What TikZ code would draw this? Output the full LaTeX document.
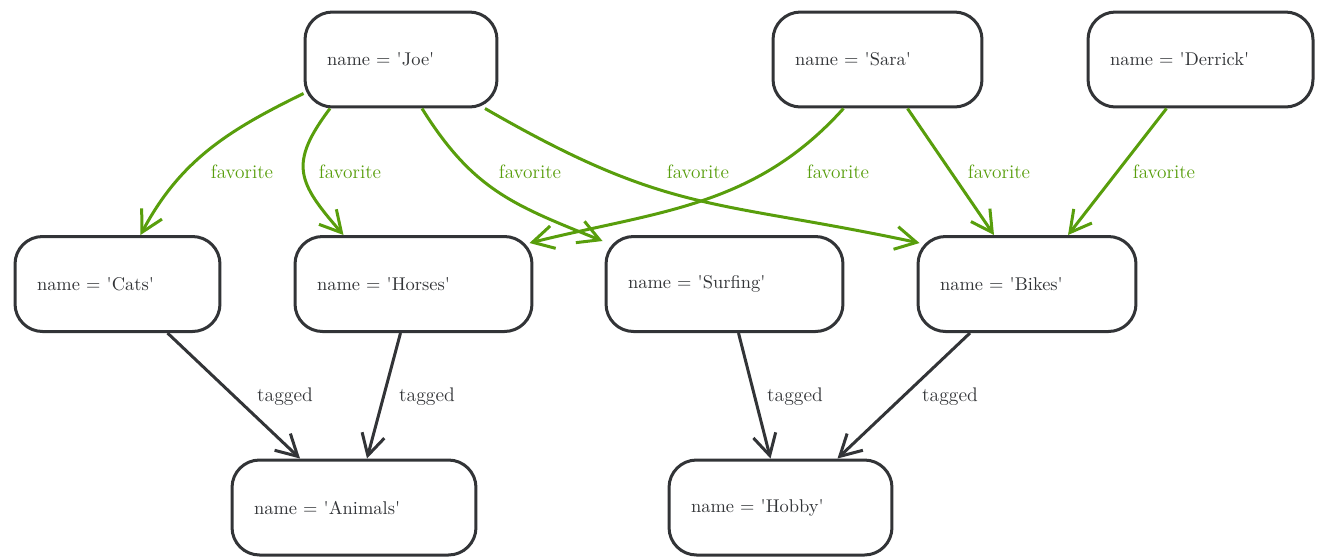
\documentclass[tikz,border=0pt]{standalone}
\usepackage{amsmath}
\usetikzlibrary{arrows.meta}
\definecolor{favgreen}{RGB}{88,158,12}
\definecolor{edgegray}{RGB}{50,52,55}
\begin{document}
\begin{tikzpicture}[x=0.02cm,y=-0.02cm,every node/.style={text=edgegray},
    entity/.style={draw=edgegray,line width=0.06cm,rounded corners=0.55cm,minimum height=1.9cm,inner xsep=0.44cm,inner ysep=0pt,text width=#1,align=left,font=\fontsize{10.5}{12}\selectfont},
    fav/.style={draw=favgreen,line width=0.06cm,-{Straight Barb[length=0.42cm,width=0.46cm]}},
    tag/.style={draw=edgegray,line width=0.06cm,-{Straight Barb[length=0.42cm,width=0.46cm]}},
    favlabel/.style={text=favgreen,font=\fontsize{11}{13}\selectfont},
    taglabel/.style={font=\fontsize{11.2}{13}\selectfont}]
        \useasboundingbox (0,0) rectangle (1317,559);
        \node[entity=2.96cm] (joe) at (401,59.5) {name = \textquotesingle Joe\textquotesingle};
        \node[entity=3.30cm] (sara) at (877.5,59.5) {name = \textquotesingle Sara\textquotesingle};
        \node[entity=3.62cm] (derrick) at (1200.5,59.5) {name = \textquotesingle Derrick\textquotesingle};
        \node[entity=3.22cm] (cats) at (117.5,284) {name = \textquotesingle Cats\textquotesingle};
        \node[entity=3.86cm] (horses) at (413.5,284) {name = \textquotesingle Horses\textquotesingle};
        \node[entity=3.86cm] (surfing) at (724.5,284) {name = \textquotesingle Surfing\textquotesingle};
        \node[entity=3.48cm] (bikes) at (1027,284) {name = \textquotesingle Bikes\textquotesingle};
        \node[entity=4.00cm] (animals) at (354,507.5) {name = \textquotesingle Animals\textquotesingle};
        \node[entity=3.58cm] (hobby) at (780.5,507.5) {name = \textquotesingle Hobby\textquotesingle};
        \draw[fav] ([shift={(0,34)}]joe.west) to[out=206,in=62] ([shift={(23,0)}]cats.north);
        \draw[fav] ([shift={(-71,0)}]joe.south) to[out=233,in=131,looseness=1.4] ([shift={(-70,0)}]horses.north);
        \draw[fav] ([shift={(21,0)}]joe.south) to[out=-58,in=158,looseness=1.1] ([shift={(-2,6)}]surfing.north west);
        \draw[fav] ([shift={(84,0)}]joe.south) to[out=-30,in=168,looseness=1.2] ([shift={(3,8)}]bikes.north west);
        \draw[fav] ([shift={(-34,0)}]sara.south) to[out=228,in=14] ([shift={(-4,8)}]horses.north east);
        \draw[fav] ([shift={(30,0)}]sara.south) -- ([shift={(-33,0)}]bikes.north);
        \draw[fav] ([shift={(-34,0)}]derrick.south) -- ([shift={(41,0)}]bikes.north);
        \draw[tag] ([shift={(50,0)}]cats.south) -- ([shift={(-54,0)}]animals.north);
        \draw[tag] ([shift={(-13,0)}]horses.south) -- ([shift={(13,0)}]animals.north);
        \draw[tag] ([shift={(14,0)}]surfing.south) -- ([shift={(-10,0)}]hobby.north);
        \draw[tag] ([shift={(-57,0)}]bikes.south) -- ([shift={(57,0)}]hobby.north);
        \foreach \x in {242,350,530,698,838,999,1164}
            \node[favlabel] (fav\x) at (\x,172) {favorite};
        \foreach \x in {285,427,795,950}
            \node[taglabel] (tag\x) at (\x,397) {tagged};
      \end{tikzpicture}
\end{document}
